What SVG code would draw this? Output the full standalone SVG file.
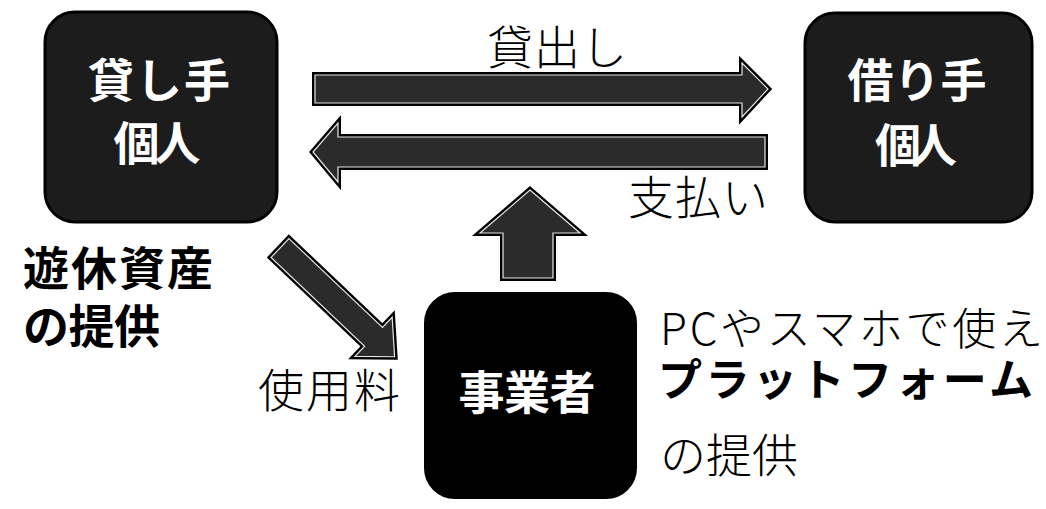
<svg xmlns="http://www.w3.org/2000/svg" width="1046" height="509" viewBox="0 0 1046 509">
  <style>
    .box { fill: #1c1c1c; stroke: #000; stroke-width: 3; }
    .solid { fill: #000; stroke: #000; stroke-width: 2; }
    .arrow-out { fill: #000; stroke: #000; stroke-width: 6; stroke-linejoin: miter; }
    .arrow-in { fill: #2b2b2b; stroke: #e6e6e6; stroke-width: 1.2; stroke-linejoin: miter; }
    .t { font-family: "Noto Sans CJK JP", sans-serif; font-size: 46px; }
    .s { font-size: 44px; }
    .w { fill: #fff; font-weight: bold; }
    .b { fill: #000; font-weight: bold; }
    .n { fill: #000; font-weight: 300; }
  </style>
  <defs>
    <path id="a-lend" d="M315,75 H742 V63 L768,89 L742,117 V103 H315 Z"/>
    <path id="a-pay" d="M765,137 H338 V123 L313,152 L338,182 V167 H765 Z"/>
    <path id="a-up" d="M530,190 L580,233 H553 V278 H503 V233 H480 Z"/>
    <path id="a-diag" transform="translate(280,248) rotate(43.5)" d="M0,-13 H129 V-27 L158,0 L129,27 V13 H0 Z"/>
  </defs>
  <rect width="1046" height="509" fill="#fff"/>

  <g id="connectors">
    <use href="#a-lend" class="arrow-out"/>
    <use href="#a-lend" class="arrow-in"/>
    <use href="#a-pay" class="arrow-out"/>
    <use href="#a-pay" class="arrow-in"/>
    <use href="#a-up" class="arrow-out"/>
    <use href="#a-up" class="arrow-in"/>
    <use href="#a-diag" class="arrow-out"/>
    <use href="#a-diag" class="arrow-in"/>
    <text class="t n" x="557" y="64" text-anchor="middle" textLength="140">貸出し</text>
    <text class="t n" x="698" y="214" text-anchor="middle" textLength="140">支払い</text>
    <text class="t n" x="329" y="407" text-anchor="middle" textLength="142">使用料</text>
  </g>

  <g id="lender">
    <rect class="box" x="45" y="12" width="232" height="210" rx="30" ry="30"/>
    <text class="t w" x="159" y="97" text-anchor="middle" textLength="142">貸し手</text>
    <text class="t w" x="157" y="160" text-anchor="middle" textLength="87">個人</text>
  </g>

  <g id="borrower">
    <rect class="box" x="805" y="13" width="227" height="209" rx="30" ry="30"/>
    <text class="t w" x="917" y="97" text-anchor="middle" textLength="139">借り手</text>
    <text class="t w" x="916" y="162" text-anchor="middle" textLength="82">個人</text>
  </g>

  <g id="idle-assets">
    <text class="t b" x="23" y="285" textLength="190">遊休資産</text>
    <text class="t b" x="23" y="343" textLength="137">の提供</text>
  </g>

  <g id="operator">
    <rect class="solid" x="425" y="293" width="211" height="205" rx="30" ry="30"/>
    <text class="t w" x="527" y="409" text-anchor="middle" textLength="137">事業者</text>
  </g>

  <g id="platform">
    <text class="t s n" x="660" y="345" textLength="383">PCやスマホで使え</text>
    <text class="t s b" x="658" y="396" textLength="375">プラットフォーム</text>
    <text class="t n" x="660" y="472" textLength="138">の提供</text>
  </g>
</svg>
